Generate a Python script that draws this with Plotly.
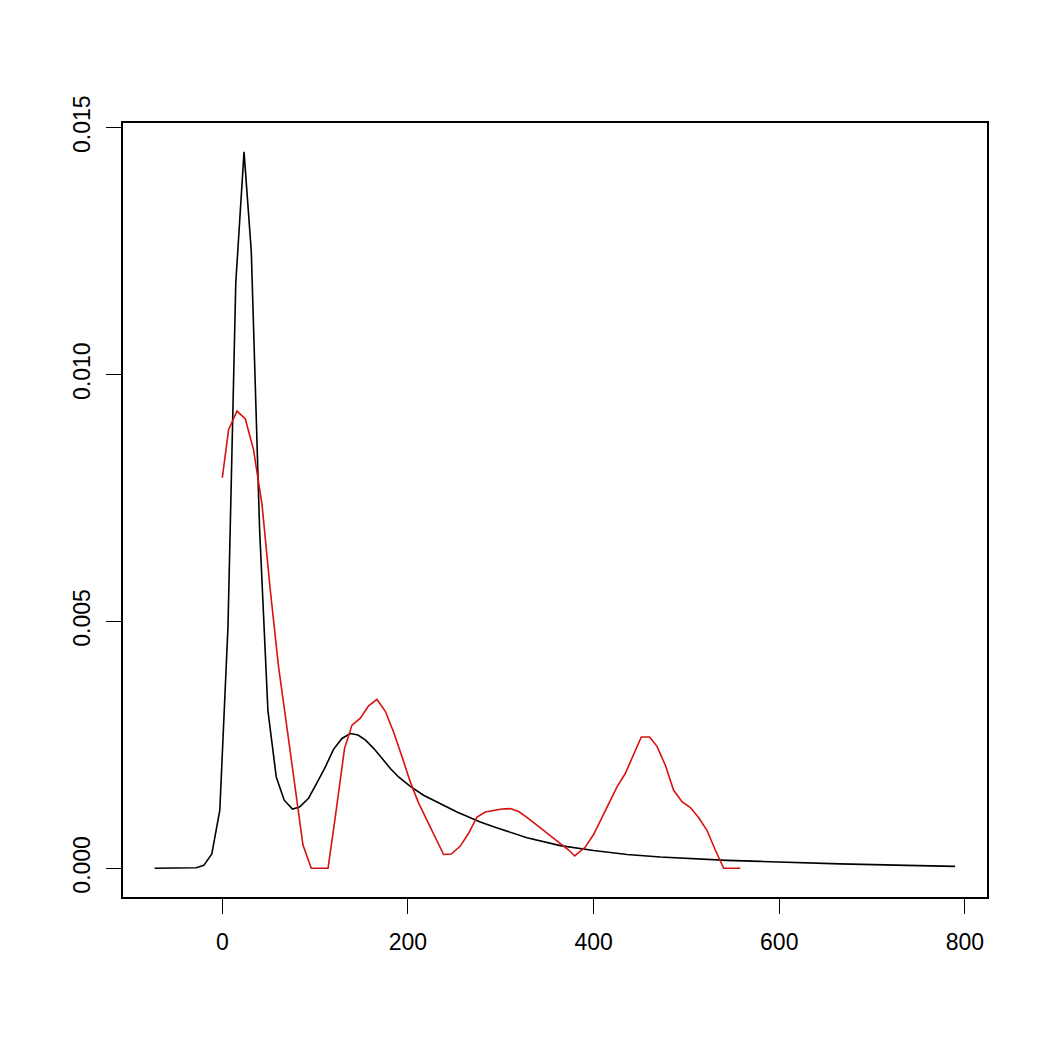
import plotly.graph_objects as go

# Black curve (fitted density)
black_x = [-72.9, -64.0, -55.0, -46.0, -37.0, -28.0, -20.0, -11.3, -2.7, 6.1, 14.5, 23.4,
           31.2, 40.1, 49.1, 58.1, 66.7, 75.6, 83.2, 92.9, 101.9, 110.9, 119.8, 128.9,
           137.9, 146.2, 154.0, 163.0, 172.0, 181.0, 189.9, 202.5, 216.8, 234.8, 252.8,
           277.9, 292.3, 328.2, 364.1, 400.0, 436.0, 471.8, 507.7, 543.7, 579.6, 594.0,
           665.7, 737.5, 789.4]
black_y = [0.0, 0.0, 0.0, 0.0, 0.0, 0.00001, 0.00006, 0.00029, 0.00118, 0.00489, 0.01186, 0.01451,
           0.0125, 0.0069, 0.0032, 0.00185, 0.00138, 0.0012, 0.00124, 0.00142, 0.00173, 0.00205,
           0.00241, 0.00263, 0.00273, 0.0027, 0.0026, 0.00243, 0.00223, 0.00202, 0.00185, 0.00166,
           0.00148, 0.00131, 0.00114, 0.00094, 0.00084, 0.00062, 0.00046, 0.00036, 0.00028,
           0.00023, 0.00019, 0.00016, 0.00014, 0.00013, 0.00009, 0.00006, 0.00004]

# Red curve (empirical density)
red_x = [0.0, 6.8, 15.8, 24.8, 33.7, 42.8, 51.7, 60.6, 69.7, 78.6, 86.9, 95.8, 104.8, 113.9,
         121.7, 131.7, 139.7, 148.7, 157.6, 166.6, 175.6, 184.5, 193.6, 202.5, 211.5, 220.5,
         229.5, 238.4, 246.7, 256.4, 265.3, 274.4, 283.3, 292.3, 301.3, 310.2, 319.2, 328.2,
         337.2, 346.1, 355.2, 364.1, 373.1, 379.6, 391.1, 400.1, 409.0, 418.0, 425.2, 434.1,
         443.1, 451.4, 460.3, 468.3, 477.2, 486.2, 495.2, 504.2, 513.1, 522.1, 531.1, 540.1, 558.0]
red_y = [0.00791, 0.00889, 0.00926, 0.0091, 0.00847, 0.00736, 0.00563, 0.00408, 0.00284, 0.00158,
         0.00047, 0.0, 0.0, 0.0, 0.00104, 0.00243, 0.0029, 0.00304, 0.00329, 0.00342, 0.00318,
         0.00276, 0.00226, 0.00175, 0.00132, 0.00097, 0.00064, 0.00028, 0.00029, 0.00045, 0.00071,
         0.00104, 0.00114, 0.00117, 0.0012, 0.00121, 0.00115, 0.00103, 0.0009, 0.00077, 0.00064,
         0.0005, 0.00037, 0.00025, 0.00043, 0.00069, 0.00104, 0.00138, 0.00165, 0.00192, 0.00229,
         0.00266, 0.00266, 0.00247, 0.00209, 0.00158, 0.00135, 0.00123, 0.00103, 0.00077, 0.00037,
         0.0, 0.0]

x_ticks = [0, 200, 400, 600, 800]
y_ticks = [0.0, 0.005, 0.010, 0.015]
y_tick_labels = ["0.000", "0.005", "0.010", "0.015"]

fig = go.Figure()
fig.add_trace(go.Scatter(x=black_x, y=black_y, mode="lines",
                         line=dict(color="black", width=1.6), showlegend=False))
fig.add_trace(go.Scatter(x=red_x, y=red_y, mode="lines",
                         line=dict(color="#d81010", width=1.6), showlegend=False))

font = dict(family="Liberation Sans, Arial, sans-serif", size=23, color="black")
fig.update_layout(
    width=1050, height=1050,
    margin=dict(l=115, r=71, t=115, b=161),
    paper_bgcolor="white", plot_bgcolor="white",
    font=font,
)
fig.update_xaxes(range=[-107.0, 823.8], tickvals=x_ticks, ticks="outside", ticklen=15,
                 tickwidth=1.3, tickcolor="black", showline=True, linecolor="black",
                 linewidth=1.5, mirror=True, showgrid=False, zeroline=False,
                 ticklabelstandoff=9)
fig.update_yaxes(range=[-0.000581, 0.015095], tickvals=y_ticks, ticktext=y_tick_labels,
                 ticks="outside", ticklen=15, tickwidth=1.3, tickcolor="black",
                 showline=True, linecolor="black", linewidth=1.5, mirror=True,
                 showgrid=False, zeroline=False, tickangle=-90, ticklabelstandoff=7)

fig.write_html("out.html")
